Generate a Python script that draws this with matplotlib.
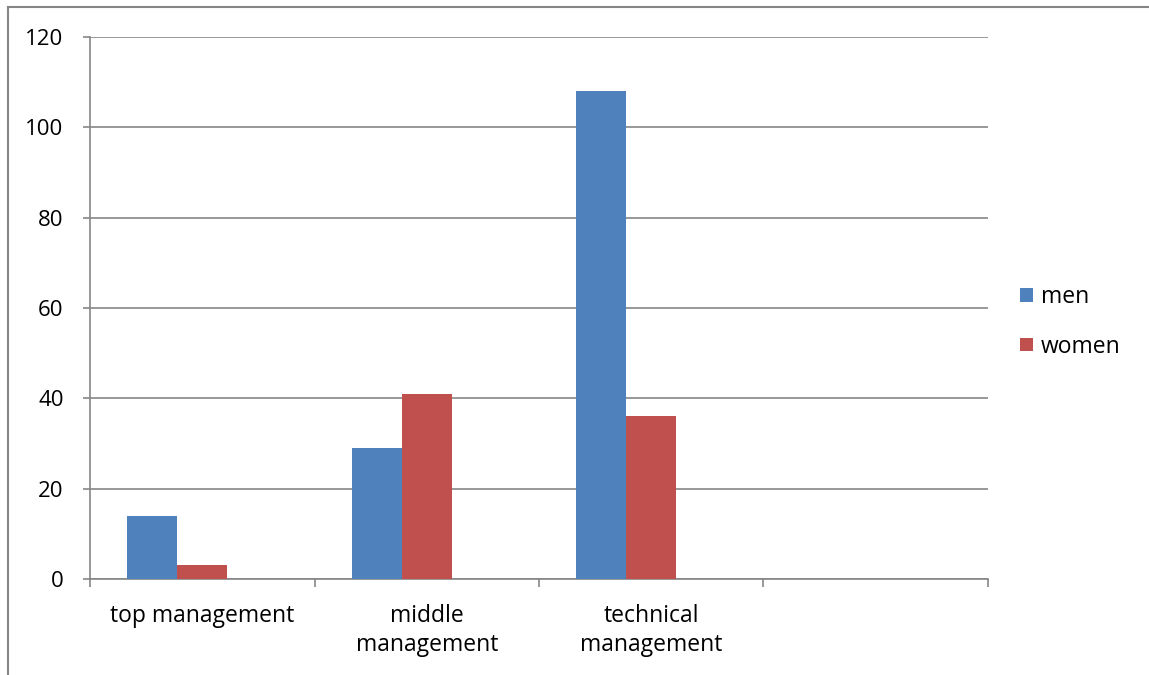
import matplotlib
matplotlib.use("Agg")
import numpy as np
import matplotlib.pyplot as plt
from matplotlib.lines import Line2D

categories = ["top management", "middle\nmanagement", "technical\nmanagement", ""]
men = [14, 29, 108, 0]
women = [3, 41, 36, 0]
yticks = [0, 20, 40, 60, 80, 100, 120]

plt.rcParams["font.family"] = ["Open Sans", "DejaVu Sans"]
GREY = "#868686"

fig = plt.figure(figsize=(11.49, 6.75), dpi=100)
ax = fig.add_axes([90 / 1149, 1 - 579 / 675, 898 / 1149, 542 / 675])

x = np.arange(len(categories))
w = 0.223
# Excel layout with room for a third (empty) series: bars sit left of centre
ax.bar(x - w, men, w, color="#4F81BD", label="men", zorder=3)
ax.bar(x, women, w, color="#C0504D", label="women", zorder=3)

ax.set_xlim(-0.5, len(categories) - 0.5)
ax.set_ylim(0, 120)
ax.set_yticks(yticks)
ax.yaxis.grid(True, color=GREY, linewidth=1.2, zorder=0)

ax.set_xticks(x)
ax.set_xticklabels(categories, fontsize=16.5, linespacing=1.3)
ax.set_xticks(np.arange(len(categories) + 1) - 0.5, minor=True)
ax.tick_params(axis="x", which="major", length=0, pad=18)
ax.tick_params(axis="x", which="minor", length=6, color=GREY, width=1.2, direction="out")
ax.tick_params(axis="y", length=5, color=GREY, width=1.2, pad=14, labelsize=16)

for side in ["top", "right"]:
    ax.spines[side].set_visible(False)
for side in ["left", "bottom"]:
    ax.spines[side].set_color(GREY)
    ax.spines[side].set_linewidth(1.2)

ax.legend(loc="center left", bbox_to_anchor=(1.013, 0.474), frameon=False,
          fontsize=16.5, handlelength=0.55, handleheight=0.55, handletextpad=0.35,
          labelspacing=1.1)

# outer chart frame (cropped at right and bottom)
fx = 8 / 1149
fy = 1 - 7 / 675
fig.add_artist(Line2D([fx, fx], [0, fy], transform=fig.transFigure, color=GREY, linewidth=1.5))
fig.add_artist(Line2D([fx, 1], [fy, fy], transform=fig.transFigure, color=GREY, linewidth=1.5))

fig.savefig("out.png", dpi=100)
